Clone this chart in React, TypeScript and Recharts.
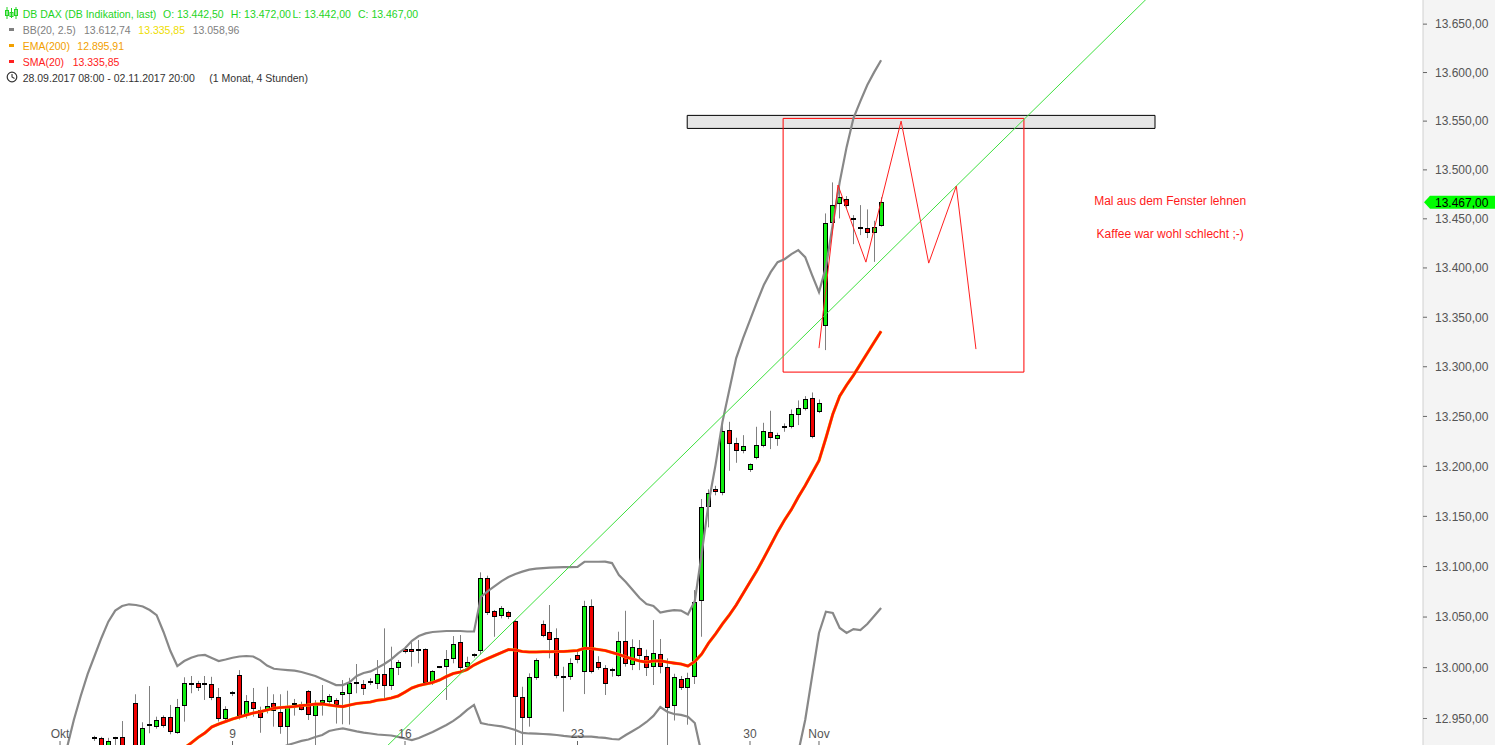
import React from "react";
import {
  ComposedChart,
  Bar,
  Line,
  XAxis,
  YAxis,
  ReferenceLine,
  ReferenceArea,
  ReferenceDot,
} from "recharts";

const W = 1495;
const H = 745;
const AXIS_H = 24; // x axis band sits below the visible area, labels are drawn inside
const FONT = "'Liberation Sans', Arial, sans-serif";

// 4h candles, 5 per day. k = 0 is Mon 02.10.2017 (tick "Okt").
// null = candle lies below the visible price range.
const candleOpen = [
  null, null, null, null, null, 12931.6, 12930.6, 12918, 12931, 12932,
  null, 12964.9, 12921, 12944.3, 12942, 12951.5, 12951.5, 12936.5, 12962.3, 12983,
  12984.6, 12982.3, 12983.6, 12971.1, 12949.2, 12975.4, 12992.4, 12952.8, 12965.9, 12958.4,
  12958.4, 12964.9, 12956.4, 12941.9, 12962.6, 12964.5, 12976.7, 12952.8, 12964.9, 12966.5,
  12968.2, 12972.4, 12974.8, 12985.2, 12983.6, 12986, 12983.6, 12993.4, 12981.2, 12999.3,
  13018.1, 13018.1, 13015.7, 13018.1, 12984.6, 13000.3, 13000.9, 13008.2, 13025, 12999.9,
  13011.3, 13015.7, 13088.3, 13055.9, 13050.3, 13054.7, 13046, 12971.4, 12950.2, 12990.1,
  13043.1, 13035.5, 13029, 12991.1, 12990.5, 13012.5, 12996, 13060.9, 13005.5, 12999.9,
  12997.6, 12992, 13026.3, 13001.9, 13019.1, 13011.5, 12999.9, 13013.1, 13000.9, 12961.6,
  12988.5, 12980.7, 12990.5, 13065.2, 13159, 13177.2, 13172.9, 13236.3, 13222.9, 13214.5,
  13195.5, 13208.5, 13220.5, 13234, 13227.6, 13240.3, 13239, 13250.6, 13257, 13268.1,
  13254, 13340.3, 13445.3, 13464.7, 13470.5, 13448.3, 13440.9, 13440.2, 13436.2, 13442.5,
];
const candleHigh = [
  null, null, null, null, null, 12933, 12932, 12931, 12932, 12947.5,
  null, 12973.8, 12946.3, 12981.9, 12951.8, 12953, 12963.3, 12969.2, 12990.5, 12991.8,
  12987, 12991.8, 12991, 12980, 12962, 12977, 12997.6, 12973, 12980, 12961.6,
  12981.2, 12973.8, 12973.8, 12977.3, 12969.2, 12966.5, 12978, 12968, 12982.9, 12974,
  12970, 12987.8, 12990, 13003.6, 12987.8, 12989.5, 13007.5, 13038.8, 13020.7, 13007.5,
  13020.7, 13027.3, 13027.3, 13019, 12997.6, 13001, 13017.4, 13031.2, 13032.2, 13010.8,
  13014.1, 13094.3, 13091, 13057, 13060.9, 13056.2, 13047, 12981.2, 12994.4, 13009.2,
  13046.6, 13061.9, 13038.8, 13000.9, 13009.2, 13017.4, 13066.1, 13067.5, 13011.3, 13002.5,
  12999.9, 13035.5, 13056.2, 13028, 13027.3, 13017.8, 13047, 13028.3, 13009.2, 12994,
  12991.8, 12995, 13076.7, 13167.3, 13177, 13180.5, 13247, 13244.6, 13228.6, 13231.2,
  13202.9, 13239.6, 13243.6, 13255.7, 13233.6, 13243, 13257, 13266.1, 13270.4, 13274.1,
  13267.1, 13455.5, 13487.2, 13484.5, 13473.2, 13453.8, 13464, 13459.6, 13448, 13472,
];
const candleLow = [
  null, null, null, null, null, 12928, 12915, 12912, 12922, 12912,
  null, 12915, 12918, 12935.5, 12940, 12941, 12934.5, 12935, 12946.9, 12974.8,
  12977, 12968.2, 12968, 12947, 12946, 12972, 12949, 12950, 12951.8, 12936,
  12955, 12942, 12935, 12920, 12952.8, 12958, 12948.5, 12920, 12952.8, 12963.3,
  12945, 12944.3, 12944, 12974.8, 12973.1, 12982.9, 12979, 12968.2, 12978, 12992.7,
  13014, 13000.9, 13004.3, 12984, 12982.9, 12999.5, 12968.2, 13004.3, 12997.6, 12997.6,
  13010, 13013, 13052, 13030.5, 13048.7, 13048, 12920, 12920, 12942, 12988,
  13030, 13009.2, 12989.5, 12956.7, 12988, 13004.3, 12974, 12994.4, 12998, 12973.1,
  12991.1, 12991, 13001, 12997.6, 12997.6, 12991.8, 12982.9, 12994.4, 12920, 12948,
  12978, 12943.9, 12983.9, 13030.5, 13139, 13171, 13171, 13195.5, 13203.5, 13213,
  13194.4, 13207, 13219, 13217.2, 13220.5, 13234.6, 13238, 13241.3, 13256, 13228,
  13253.3, 13316.8, 13443, 13450.4, 13461, 13424.2, 13433.4, 13430.4, 13406.2, 13442,
];
const candleClose = [
  null, null, null, null, null, 12929.6, 12920, 12928, 12930, 12915,
  null, 12920, 12940.4, 12942.4, 12948.5, 12943, 12936.5, 12961.6, 12984.6, 12984,
  12979.7, 12984.6, 12969.9, 12949.8, 12959.1, 12974.1, 12951.8, 12966.9, 12959, 12950.8,
  12962, 12956.6, 12941.9, 12961.6, 12964.9, 12959, 12952.8, 12965.2, 12968.2, 12972.1,
  12963.1, 12975.7, 12985.2, 12985.5, 12978.7, 12986.2, 12993.4, 12981.2, 12999.3, 13005.2,
  13015.1, 13014.7, 13018.1, 12984.6, 12996.3, 13000.5, 13008.5, 13023, 12999.3, 13005.2,
  13012.8, 13088.3, 13053.7, 13050.3, 13058.6, 13049.7, 12971.4, 12950.8, 12990.5, 13007.5,
  13031.5, 13027.3, 12991.1, 12991.3, 13004.5, 13007.5, 13060.9, 12996, 12999.9, 12984.2,
  12997.8, 13026.3, 13003.3, 13020.1, 13010.8, 12999.3, 13014.1, 12999.9, 12961, 12990.5,
  12979.7, 12990.1, 13064.9, 13159, 13173, 13173.9, 13235.3, 13221.9, 13214.5, 13219.9,
  13201.9, 13221.2, 13235.3, 13228, 13231.3, 13238, 13252.3, 13258, 13267.1, 13228.6,
  13263.1, 13445.3, 13464, 13471.9, 13463.3, 13450.4, 13440.8, 13435.1, 13441.9, 13467,
];

// Bollinger(20, 2.5) upper / lower, SMA(20) (= BB middle)
const bbUpper = [
  12901.5, 12921.1, 12948.5, 12972.1, 12993.7, 13011.5, 13029.3, 13045.4, 13056.4, 13060.9,
  13062.6, 13061.9, 13060.4, 13056.9, 13051.9, 13035.2, 13016.4, 13001.6, 13006.5, 13009.8,
  13012, 13012.5, 13009.5, 13006.5, 13008, 13009.8, 13011, 13011.5, 13011, 13007.5,
  13002.1, 12998.9, 12998.2, 12997.6, 12997, 12995.7, 12993.7, 12991.8, 12988.8, 12985.9,
  12982.9, 12982.9, 12985.9, 12991.8, 12994.8, 12996.3, 12999.8, 13003.6, 13008.2, 13014.1,
  13019.1, 13026.5, 13031.2, 13033.8, 13035.2, 13035.7, 13036.2, 13036.2, 13036.2, 13035.7,
  13035.7, 13069.8, 13075.7, 13080.7, 13085.6, 13089.6, 13092.6, 13095, 13097, 13098,
  13098.5, 13099, 13099.2, 13099.5, 13099.5, 13099.8, 13104.8, 13104.8, 13104.8, 13105,
  13103.5, 13091.6, 13084.7, 13076.7, 13068.8, 13062.9, 13060.9, 13054.5, 13055.9, 13056.9,
  13056.4, 13052.5, 13065.8, 13113, 13163.3, 13201.2, 13244.3, 13276.5, 13308.7, 13328.9,
  13347.1, 13365.3, 13382.6, 13395.7, 13405.9, 13408.9, 13414, 13418.1, 13410.9, 13392.7,
  13375.5, 13400.8, 13444.6, 13487.5, 13523.3, 13553.1, 13570.6, 13587.1, 13600.4, 13612.74,
];
const bbLower = [
  null, null, null, null, null, null, null, null, null, null,
  null, null, null, null, null, null, null, null, null, null,
  null, null, null, null, null, 12889, 12893, 12898, 12903, 12908,
  12913, 12917, 12921, 12924, 12926, 12928, 12929.4, 12931.9, 12933.8, 12937.7,
  12939.2, 12940.2, 12938.8, 12937.3, 12936.1, 12935.3, 12934.3, 12933.8, 12933.3, 12931.9,
  12930.4, 12928.9, 12930.9, 12933.8, 12936.8, 12940.2, 12943.6, 12947.6, 12952.5, 12958.4,
  12963.3, 12945.6, 12944.1, 12943.1, 12942.2, 12940.7, 12938.7, 12935.8, 12935.3, 12935.1,
  12934.8, 12934.5, 12933.8, 12932.9, 12932.2, 12932.2, 12932.2, 12932.2, 12931.4, 12930.9,
  12929.9, 12929.4, 12933.8, 12937.7, 12941.7, 12946.6, 12952.5, 12961.3, 12956.7, 12954.4,
  12953.5, 12951.8, 12945.6, 12915, 12870, 12840, 12810, 12790, 12780, 12775,
  12780, 12790, 12805, 12825, 12850, 12870, 12895, 12917, 12948.5, 12991.4,
  13034.2, 13055.3, 13054, 13039.2, 13034.2, 13038.1, 13037.2, 13043.1, 13051, 13058.96,
];
const sma20 = [
  null, null, null, null, null, null, null, null, null, null,
  null, null, null, null, null, null, null, 12912, 12921, 12926,
  12931.4, 12935.8, 12941.7, 12944.6, 12947.1, 12949.5, 12951.5, 12953.5, 12955.4, 12956.7,
  12958.4, 12960, 12960.8, 12961.3, 12961.8, 12962.8, 12963.3, 12964.1, 12964.3, 12963.3,
  12962.3, 12961.7, 12963.3, 12964.7, 12965.5, 12966.2, 12967.9, 12968.7, 12970.1, 12972.1,
  12976, 12980, 12982.4, 12983.9, 12985.4, 12987.8, 12991.3, 12994.2, 12995.7, 12998.1,
  13002.6, 13006, 13009, 13012, 13014.9, 13017.9, 13017.4, 13015.9, 13015.4, 13015.4,
  13015.7, 13015.7, 13015.9, 13015.9, 13016.4, 13016.9, 13019.1, 13018.9, 13017.9, 13016.9,
  13014.9, 13013, 13010.5, 13008.5, 13006.5, 13005.5, 13006.5, 13006.8, 13005.5, 13004.5,
  13003.6, 13001.6, 13006, 13013.4, 13024.3, 13033.2, 13043.1, 13052, 13061.9, 13073.3,
  13084.7, 13096, 13108.5, 13121.4, 13134.4, 13146.3, 13156.8, 13169.3, 13180.7, 13193.2,
  13205.7, 13228.3, 13252.3, 13270.4, 13281.5, 13291.5, 13302.6, 13313.7, 13324.8, 13335.85,
];
const ema200Last = 12895.91;

const xTickPos = [0, 25, 50, 75, 100, 110];
const xTickLabels = ["Okt", "9", "16", "23", "30", "Nov"];
const yTicks = [
  12950, 13000, 13050, 13100, 13150, 13200, 13250, 13300,
  13350, 13400, 13450, 13500, 13550, 13600, 13650,
];

// drawings (in candle index / price units)
const trendLine = [
  { x: 46.4, y: 12916.3 },
  { x: 158.0, y: 13679.9 },
];
const resistanceBox = { x1: 90.9, x2: 158.7, y1: 13542.5, y2: 13555.9 };
const targetBox = { x1: 104.8, x2: 139.7, y1: 13294.6, y2: 13552.8 };
const zigzagK = [110.0, 112.75, 116.8, 121.9, 125.9, 129.9, 132.75];
const zigzagV = [13318.8, 13484.5, 13405.9, 13550, 13404.9, 13483.4, 13317.8];
const noteK = 160.9;
const noteText = ["Mal aus dem Fenster lehnen", "Kaffee war wohl schlecht ;-)"];
const noteV = [13468.4, 13435.1];

const X_MIN = -8.7;
const X_MAX = 197.54;
const Y_MIN = 12924;
const Y_MAX = 13675;

const rows = candleOpen.map((o, k) => ({
  k,
  o,
  h: candleHigh[k],
  l: candleLow[k],
  c: candleClose[k],
  up: bbUpper[k],
  lo: bbLower[k],
  mid: sma20[k],
  sma: sma20[k],
}));

const last = rows[rows.length - 1];

function fmt(v: number) {
  const [i, d] = v.toFixed(2).split(".");
  return i.replace(/\B(?=(\d{3})+(?!\d))/g, ".") + "," + d;
}

const Wick = (p: any) => {
  const d = p.payload;
  if (!d || d.h == null) return null;
  const cx = Math.round(p.x + p.width / 2 - 2.5) + 2.5;
  const top = Math.min(p.y, p.y + p.height);
  const h = Math.abs(p.height);
  return <line x1={cx} x2={cx} y1={top} y2={top + h} stroke="#808080" strokeWidth={1} />;
};

const Body = (p: any) => {
  const d = p.payload;
  if (!d || d.o == null) return null;
  const left = Math.round(p.x + p.width / 2 - 2.5);
  const top = Math.min(p.y, p.y + p.height);
  const h = Math.abs(p.height);
  if (h < 1.6) {
    return <rect x={left} y={Math.round(top + h / 2) - 1} width={5} height={2} fill="#000" />;
  }
  return (
    <rect
      x={left + 0.5}
      y={Math.round(top) + 0.5}
      width={4}
      height={Math.max(1, Math.round(h) - 1)}
      fill={d.c >= d.o ? "#11ee11" : "#f00000"}
      stroke="#000"
      strokeWidth={1}
    />
  );
};

// labels are drawn inside the plot, just above its lower edge
const XTick = (p: any) => {
  const i = xTickPos.indexOf(p.payload.value);
  return (
    <g>
      <line x1={p.x} x2={p.x} y1={H - 4} y2={H} stroke="#666" />
      <text x={p.x} y={H - 7} textAnchor="middle" fontSize={12} fill="#555">
        {xTickLabels[i]}
      </text>
    </g>
  );
};

const PriceTag = (props: any) => {
  const vb = props.viewBox || {};
  const x0 = (vb.x || 0) + (vb.width || 0);
  const y = vb.y || 0;
  return (
    <g>
      <polygon
        points={`${x0 + 1},${y} ${x0 + 7},${y - 6.5} ${W},${y - 6.5} ${W},${y + 6.5} ${x0 + 7},${y + 6.5}`}
        fill="#00ff00"
      />
      <text x={x0 + 12} y={y + 4.5} fontSize={12} fill="#000">
        {fmt(last.c as number)}
      </text>
    </g>
  );
};

const legendText = (left: number, cy: number, color: string, text: string) => (
  <span
    style={{
      position: "absolute",
      left,
      top: cy - 6,
      lineHeight: "14px",
      fontSize: 10.5,
      color,
      whiteSpace: "nowrap",
    }}
  >
    {text}
  </span>
);

const legendDash = (cy: number, color: string) => (
  <div style={{ position: "absolute", left: 9, top: cy - 1.5, width: 5, height: 3, background: color }} />
);

export default function App() {
  const green = "#1fd41f";
  return (
    <div
      style={{
        position: "fixed",
        left: 0,
        top: 0,
        width: W,
        height: H,
        background: "#fff",
        fontFamily: FONT,
        overflow: "hidden",
      }}
    >
      <div style={{ position: "absolute", left: 1423, top: 0, width: W - 1423, height: H, background: "#f4f4f4" }} />
      <div style={{ position: "absolute", left: 0, top: 0 }}>
        <ComposedChart width={W} height={H + AXIS_H} data={rows} margin={{ top: 0, right: 0, left: 0, bottom: 0 }}>
          <XAxis
            xAxisId={0}
            dataKey="k"
            type="number"
            domain={[X_MIN, X_MAX]}
            allowDataOverflow
            ticks={xTickPos}
            interval={0}
            tick={<XTick />}
            tickLine={false}
            axisLine={false}
            height={AXIS_H}
          />
          <XAxis xAxisId="w" dataKey="k" type="number" domain={[X_MIN, X_MAX]} allowDataOverflow hide />
          <XAxis xAxisId="b" dataKey="k" type="number" domain={[X_MIN, X_MAX]} allowDataOverflow hide />
          <YAxis
            yAxisId={0}
            orientation="right"
            width={72}
            scale="log"
            type="number"
            domain={[Y_MIN, Y_MAX]}
            allowDataOverflow
            ticks={yTicks}
            interval={0}
            tickFormatter={fmt}
            tick={{ fill: "#555", fontSize: 12 }}
            tickLine={{ stroke: "#666" }}
            tickSize={4}
            tickMargin={8}
            axisLine={{ stroke: "#d0d0d0" }}
          />

          <ReferenceArea
            x1={resistanceBox.x1}
            x2={resistanceBox.x2}
            y1={resistanceBox.y1}
            y2={resistanceBox.y2}
            fill="#e6e6e6"
            fillOpacity={1}
            stroke="#000"
            strokeWidth={1}
          />

          <Bar
            xAxisId="w"
            dataKey={(d: any) => (d.h == null ? null : [d.l, d.h])}
            barSize={1}
            shape={Wick}
            isAnimationActive={false}
          />
          <Bar
            xAxisId="b"
            dataKey={(d: any) => (d.o == null ? null : [Math.min(d.o, d.c), Math.max(d.o, d.c)])}
            barSize={5}
            shape={Body}
            isAnimationActive={false}
          />

          <Line dataKey="up" stroke="#888" strokeWidth={2.2} dot={false} activeDot={false} isAnimationActive={false} />
          <Line dataKey="lo" stroke="#888" strokeWidth={2.2} dot={false} activeDot={false} isAnimationActive={false} />
          <Line dataKey="mid" stroke="#ffcc00" strokeWidth={3.1} dot={false} activeDot={false} isAnimationActive={false} />
          <Line dataKey="sma" stroke="#ff1a00" strokeWidth={2.6} dot={false} activeDot={false} isAnimationActive={false} />

          <ReferenceArea
            x1={targetBox.x1}
            x2={targetBox.x2}
            y1={targetBox.y1}
            y2={targetBox.y2}
            fill="none"
            fillOpacity={0}
            stroke="#ff0000"
            strokeWidth={1}
          />
          <ReferenceLine segment={trendLine} stroke="#3ee03e" strokeWidth={1} ifOverflow="hidden" />
          {zigzagK.slice(1).map((k, i) => (
            <ReferenceLine
              key={"z" + i}
              segment={[
                { x: zigzagK[i], y: zigzagV[i] },
                { x: k, y: zigzagV[i + 1] },
              ]}
              stroke="#ff2020"
              strokeWidth={1}
            />
          ))}
          {noteText.map((t, i) => (
            <ReferenceDot
              key={"n" + i}
              x={noteK}
              y={noteV[i]}
              r={1}
              fill="none"
              stroke="none"
              label={{ value: t, position: "center", fill: "#ff1a1a", fontSize: 12 }}
            />
          ))}
          <ReferenceLine y={last.c as number} stroke="none" label={<PriceTag />} />
        </ComposedChart>
      </div>

      {/* header legend */}
      <svg style={{ position: "absolute", left: 5, top: 7 }} width={13} height={12}>
        <line x1={2} x2={2} y1={0} y2={12} stroke={green} />
        <rect x={0.5} y={3.5} width={3} height={5} fill="none" stroke={green} />
        <line x1={6.5} x2={6.5} y1={1} y2={11} stroke={green} />
        <rect x={5} y={5.5} width={3} height={4} fill="none" stroke={green} />
        <line x1={11} x2={11} y1={0} y2={12} stroke={green} />
        <rect x={9.5} y={2.5} width={3} height={6} fill="none" stroke={green} />
      </svg>
      {legendText(22.7, 13.3, green, "DB DAX (DB Indikation, last)")}
      {legendText(163, 13.3, green, "O: " + fmt(last.o as number))}
      {legendText(230.7, 13.3, green, "H: " + fmt(last.h as number))}
      {legendText(292.5, 13.3, green, "L: " + fmt(last.l as number))}
      {legendText(358, 13.3, green, "C: " + fmt(last.c as number))}

      {legendDash(29, "#808080")}
      {legendText(22.7, 29, "#808080", "BB(20, 2.5)")}
      {legendText(84, 29, "#808080", fmt(last.up as number))}
      {legendText(138.3, 29, "#eedd00", fmt(last.mid as number))}
      {legendText(192.7, 29, "#808080", fmt(last.lo as number))}

      {legendDash(45, "#f2a000")}
      {legendText(22.7, 45, "#f2a000", "EMA(200)")}
      {legendText(77.3, 45, "#f2a000", fmt(ema200Last))}

      {legendDash(61, "#ff2020")}
      {legendText(22.7, 61, "#ff2020", "SMA(20)")}
      {legendText(72.7, 61, "#ff2020", fmt(last.sma as number))}

      <svg style={{ position: "absolute", left: 6, top: 71 }} width={12} height={12}>
        <circle cx={6} cy={6} r={4.8} fill="none" stroke="#333" strokeWidth={1.2} />
        <polyline points="6,3 6,6 8.5,7.5" fill="none" stroke="#333" strokeWidth={1.1} />
      </svg>
      {legendText(22.7, 77.3, "#333", "28.09.2017 08:00 - 02.11.2017 20:00")}
      {legendText(209.3, 77.3, "#333", "(1 Monat, 4 Stunden)")}
    </div>
  );
}
